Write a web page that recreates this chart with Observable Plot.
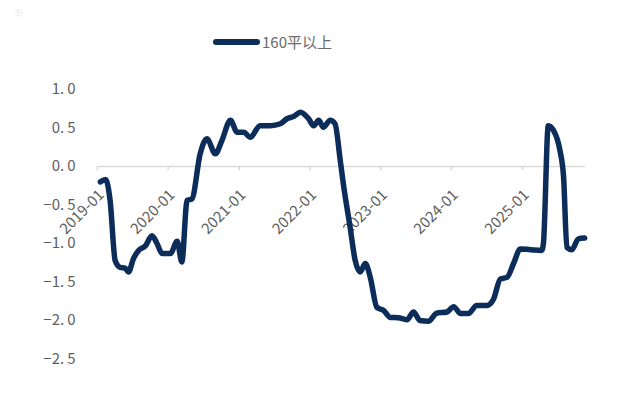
<!DOCTYPE html>
<html>
<head>
<meta charset="utf-8">
<script src="https://cdn.jsdelivr.net/npm/d3@7"></script>
<script src="https://cdn.jsdelivr.net/npm/@observablehq/plot@0.6"></script>
<style>
  html, body { margin: 0; padding: 0; background: #fff; }
  body { font-family: "Noto Sans CJK SC", "Noto Sans", sans-serif; }
  #wrap { position: relative; width: 623px; height: 406px; overflow: hidden; background: #fff; }
  #legend { position: relative; height: 62px; }
  #legend .sw { position: absolute; left: 213px; top: 39px; width: 47px; height: 6px; border-radius: 3px; background: #0c2c5a; }
  #legend .lb { position: absolute; left: 262px; top: 31px; font-size: 15px; line-height: 22px; color: #6a6a6a; white-space: nowrap; }
  #mark { position: absolute; left: 15px; top: 6px; font-size: 9px; color: #e6e6e6; }
  #chart svg { display: block; }
</style>
</head>
<body>
<div id="wrap">
  <div id="mark">9)</div>
  <div id="legend"><div class="sw"></div><div class="lb" id="legendLabel"></div></div>
  <div id="chart"></div>
</div>
<script>
const seriesName = "160平以上";

const dates = [
  "2019-01-16","2019-02-12","2019-03-07","2019-04-02","2019-04-28","2019-05-23","2019-06-10","2019-07-05",
  "2019-08-01","2019-09-05","2019-10-09","2019-11-04","2019-11-30","2020-01-12","2020-02-16","2020-03-11",
  "2020-04-07","2020-05-02","2020-06-14","2020-07-18","2020-08-31","2020-10-04","2020-11-17","2020-12-21",
  "2021-01-24","2021-02-27","2021-04-19","2021-06-10","2021-08-01","2021-09-04","2021-10-08","2021-11-13",
  "2021-12-25","2022-01-20","2022-02-15","2022-03-11","2022-04-15","2022-05-10","2022-06-06","2022-06-22",
  "2022-07-27","2022-08-22","2022-09-17","2022-10-13","2022-11-08","2022-12-12","2023-01-16","2023-02-19",
  "2023-04-01","2023-05-16","2023-06-19","2023-07-22","2023-09-04","2023-10-17","2023-12-08","2024-01-12",
  "2024-02-16","2024-03-28","2024-05-10","2024-07-01","2024-08-05","2024-09-09","2024-10-13","2024-11-16",
  "2024-12-21","2025-02-11","2025-04-10","2025-04-19","2025-05-14","2025-06-10","2025-07-13","2025-08-01",
  "2025-08-18","2025-09-13","2025-10-16","2025-11-18"
];

const values = [
  -0.20,-0.17,-0.44,-1.22,-1.31,-1.32,-1.37,-1.20,
  -1.09,-1.03,-0.90,-1.00,-1.13,-1.13,-0.97,-1.24,
  -0.44,-0.42,0.17,0.36,0.165,0.34,0.60,0.445,
  0.445,0.38,0.53,0.53,0.555,0.62,0.65,0.705,
  0.62,0.53,0.60,0.51,0.60,0.555,0.08,-0.225,
  -0.79,-1.22,-1.37,-1.26,-1.44,-1.83,-1.87,-1.96,
  -1.965,-1.99,-1.89,-2.00,-2.01,-1.905,-1.89,-1.82,
  -1.91,-1.91,-1.805,-1.805,-1.72,-1.46,-1.44,-1.26,
  -1.07,-1.08,-1.09,-1.00,0.53,0.47,0.21,-0.14,
  -1.05,-1.08,-0.94,-0.93
];

const xTickLabels = ["2019-01","2020-01","2021-01","2022-01","2023-01","2024-01","2025-01"];
const yTickValues = [1.0, 0.5, 0.0, -0.5, -1.0, -1.5, -2.0, -2.5];
const xDomain = ["2019-01-01", "2025-11-22"];

document.getElementById("legendLabel").textContent = seriesName;

const parse = d3.utcParse("%Y-%m-%d");
const data = dates.map((d, i) => ({date: parse(d), value: values[i]}));
const xTicks = xTickLabels.map(s => ({date: parse(s + "-01"), label: s}));
const fmt = d3.format(".1f");

const chart = Plot.plot({
  width: 623,
  height: 344,
  marginLeft: 97,
  marginRight: 38,
  marginTop: 27,
  marginBottom: 47.5,
  style: {color: "#5f5f5f", fontFamily: "'Noto Sans CJK SC', 'Noto Sans', sans-serif", background: "#fff"},
  x: {type: "utc", domain: xDomain.map(parse), axis: null},
  y: {domain: [-2.5, 1.0], axis: null},
  marks: [
    Plot.axisY(yTickValues, {
      tickSize: 0, tickPadding: 22, label: null, fontSize: 15,
      tickFormat: d => fmt(d).replace(".", ".\u2009")
    }),
    Plot.ruleY([0], {stroke: "#d9d9d9", strokeWidth: 1.5}),
    Plot.ruleX(xTicks, {x: "date", y1: () => 0, y2: () => 0, insetBottom: -4, stroke: "#d9d9d9", strokeWidth: 1.5}),
    Plot.text(xTicks, {
      x: "date", y: () => 0, text: "label", rotate: -45, textAnchor: "end",
      dx: 4, dy: 26, fontSize: 15, fill: "#5f5f5f"
    }),
    Plot.line(data, {
      x: "date", y: "value", stroke: "#0c2c5a", strokeWidth: 5.5,
      curve: "monotone-x", strokeLinejoin: "round", strokeLinecap: "round"
    })
  ]
});
document.getElementById("chart").appendChild(chart);
</script>
</body>
</html>
